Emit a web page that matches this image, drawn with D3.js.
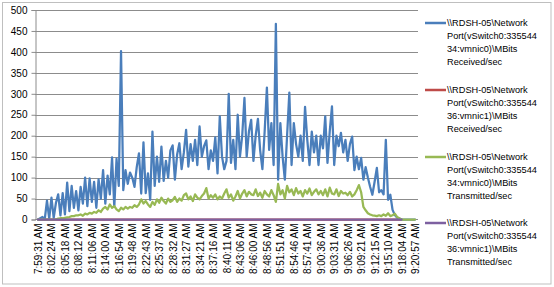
<!DOCTYPE html>
<html><head><meta charset="utf-8">
<script src="https://cdn.jsdelivr.net/npm/d3@7"></script>
<style>body{margin:0;background:#fff}svg{display:block;font-family:"Liberation Sans",Arial,sans-serif}</style>
</head><body><svg id="c" width="554" height="287"></svg>
<script>
const tickLabels = ["7:59:31 AM","8:02:24 AM","8:05:18 AM","8:08:12 AM","8:11:06 AM","8:14:00 AM","8:16:54 AM","8:19:48 AM","8:22:43 AM","8:25:37 AM","8:28:32 AM","8:31:27 AM","8:34:21 AM","8:37:16 AM","8:40:11 AM","8:43:06 AM","8:46:00 AM","8:48:56 AM","8:51:51 AM","8:54:46 AM","8:57:41 AM","9:00:36 AM","9:03:31 AM","9:06:26 AM","9:09:21 AM","9:12:15 AM","9:15:10 AM","9:18:04 AM","9:20:57 AM"];
const pointsPerLabel = 6;
const yTicks = [0,50,100,150,200,250,300,350,400,450,500];

const recv0 = [
0,3,6,0,45,2, 52,4,40,60,10,63, 12,88,20,80,28,68, 22,78,38,100,32,98,
42,90,28,96,50,118, 38,105,60,148,30,145, 80,402,70,118,85,112, 100,78,125,158,62,184,
63,110,47,210,80,150, 90,174,92,140,100,165, 177,95,155,182,120,160, 214,126,180,140,190,130,
222,150,175,189,120,165, 140,196,110,246,150,120, 140,300,135,190,120,250, 150,200,290,150,210,238,
140,200,240,165,120,210, 315,166,230,130,467,95, 230,150,95,200,303,130, 230,180,150,200,140,269,
190,130,210,160,200,130, 200,170,246,135,210,270, 130,200,175,207,160,190, 140,180,198,118,150,120,
147,95,125,100,78,59, 90,123,65,70,60,190, 47,59,23,11,5,2, 0,0,0,0,0,0, 0];
const recv1 = [
0,0,0,0,0,0, 0,0,0,0,0,0, 0,0,0,0,0,0, 0,0,0,0,0,0, 0,0,0,0,0,0, 0,0,0,0,0,0, 0,0,0,0,0,0,
0,0,0,0,0,0, 0,0,0,0,0,0, 0,0,0,0,0,0, 0,0,0,0,0,0, 0,0,0,0,0,0, 0,0,0,0,0,0, 0,0,0,0,0,0,
0,0,0,0,0,0, 0,0,0,0,0,0, 0,0,0,0,0,0, 0,0,0,0,0,0, 0,0,0,0,0,0, 0,0,0,0,0,0, 0,0,0,0,0,0,
0,0,0,0,0,0, 0,0,0,0,0,0, 0,0,0,0,0,0, 0,0,0,0,0,0, 0,0,0,0,0,0, 0,0,0,0,0,0, 0];
const sent0 = [
0,0,0,0,0,0, 0,0,0,2,3,3, 4,5,6,8,8,10, 10,12,9,14,12,16,
14,18,16,22,18,26, 30,24,36,28,32,24, 20,28,24,30,26,30, 28,34,30,36,48,38,
44,36,30,42,35,48, 40,52,44,38,50,42, 46,54,42,50,45,58, 62,48,55,44,60,52,
48,56,62,75,50,58, 52,60,48,55,50,62, 72,52,60,45,55,68, 50,62,70,55,66,60,
58,72,56,64,52,68, 60,55,70,58,42,85, 60,70,50,80,65,72, 58,75,62,68,55,70,
62,74,58,66,72,60, 68,58,72,55,76,62, 60,72,56,68,62,64, 58,66,55,60,70,82,
65,30,22,15,12,10, 9,8,10,8,12,9, 15,8,10,14,6,3, 0,0,0,0,0,0, 0];
const sent1 = [
0,0,0,0,0,0, 0,0,0,0,0,0, 0,0,0,0,0,0, 0,0,0,0,0,0, 0,0,0,0,0,0, 0,0,0,0,0,0, 0,0,0,0,0,0,
0,0,0,0,0,0, 0,0,0,0,0,0, 0,0,0,0,0,0, 0,0,0,0,0,0, 0,0,0,0,0,0, 0,0,0,0,0,0, 0,0,0,0,0,0,
0,0,0,0,0,0, 0,0,0,0,0,0, 0,0,0,0,0,0, 0,0,0,0,0,0, 0,0,0,0,0,0, 0,0,0,0,0,0, 0,0,0,0,0,0,
0,0,0,0,0,0, 0,0,0,0,0,0, 0,0,0,0,0,0, 0,0,0,0,0,0, 0,0,0,0,0,0, 0,0,0,0,0,0, 0];

const seriesNames = [
 ["\\\\RDSH-05\\Network","Port(vSwitch0:335544","34:vmnic0)\\MBits","Received/sec"],
 ["\\\\RDSH-05\\Network","Port(vSwitch0:335544","36:vmnic1)\\MBits","Received/sec"],
 ["\\\\RDSH-05\\Network","Port(vSwitch0:335544","34:vmnic0)\\MBits","Transmitted/sec"],
 ["\\\\RDSH-05\\Network","Port(vSwitch0:335544","36:vmnic1)\\MBits","Transmitted/sec"]
];
const seriesValues = [recv0, recv1, sent0, sent1];
const colors = ["#4a7ebb","#be4b48","#98b954","#7d60a0"];

const svg = d3.select("#c");
// outer frame
svg.append("rect").attr("x",2.5).attr("y",2.5).attr("width",548.5).attr("height",281.5)
  .attr("fill","none").attr("stroke","#bfbfbf");

const plotL = 35, plotR = 418, plotT = 10, plotB = 219.5;
const n = recv0.length;
const x = d3.scalePoint().domain(d3.range(n)).range([38, 415]);
const y = d3.scaleLinear().domain([0,500]).range([plotB, plotT]);

// gridlines
svg.append("g").selectAll("line").data(yTicks.filter(d=>d>0)).join("line")
  .attr("x1",plotL).attr("x2",plotR).attr("y1",d=>Math.round(y(d))+0.5).attr("y2",d=>Math.round(y(d))+0.5)
  .attr("stroke","#8c8c8c").attr("stroke-width",1);

// y axis
const ya = svg.append("g").attr("transform",`translate(${plotL+0.5},0)`)
  .call(d3.axisLeft(y).tickValues(yTicks).tickSize(4).tickPadding(4));
ya.select(".domain").attr("stroke","#8c8c8c");
ya.selectAll(".tick line").attr("stroke","#8c8c8c");
ya.selectAll(".tick text").attr("font-size",10).attr("fill","#000").attr("font-family","Liberation Sans, Arial, sans-serif");

// x axis line
svg.append("line").attr("x1",plotL).attr("x2",plotR).attr("y1",plotB).attr("y2",plotB)
  .attr("stroke","#8c8c8c").attr("stroke-width",1);

// x labels
const labelIdx = tickLabels.map((t,i)=>i*pointsPerLabel);
const xa = svg.append("g").attr("transform",`translate(0,${plotB})`)
  .call(d3.axisBottom(x).tickValues(labelIdx).tickFormat(i=>tickLabels[i/pointsPerLabel]).tickSize(0).tickPadding(0));
xa.select(".domain").remove();
xa.selectAll(".tick text").attr("font-size",10).attr("fill","#000")
  .attr("font-family","Liberation Sans, Arial, sans-serif")
  .attr("text-anchor","end").attr("transform","rotate(-90)")
  .attr("x",-4).attr("y",0).attr("dy","0.35em");

// lines
const line = d3.line().x((d,i)=>x(i)).y(d=>y(d));
[1,0,2,3].forEach(k=>{
  svg.append("path").datum(seriesValues[k]).attr("d",line)
    .attr("fill","none").attr("stroke",colors[k]).attr("stroke-width",2.25)
    .attr("stroke-linejoin","round").attr("stroke-linecap","round");
});

// legend
const leg = svg.append("g");
const legY = [23, 90, 157, 223];
seriesNames.forEach((lines,k)=>{
  const g = leg.append("g").attr("transform",`translate(0,${legY[k]})`);
  g.append("line").attr("x1",425).attr("x2",446).attr("y1",0).attr("y2",0)
    .attr("stroke",colors[k]).attr("stroke-width",2.5);
  const t = g.append("text").attr("x",447).attr("y",0)
    .attr("font-size",9.2).attr("fill","#000");
  lines.forEach((s,j)=>t.append("tspan").attr("x",447).attr("dy",j===0?"0.35em":"13").text(s));
});
</script></body></html>
